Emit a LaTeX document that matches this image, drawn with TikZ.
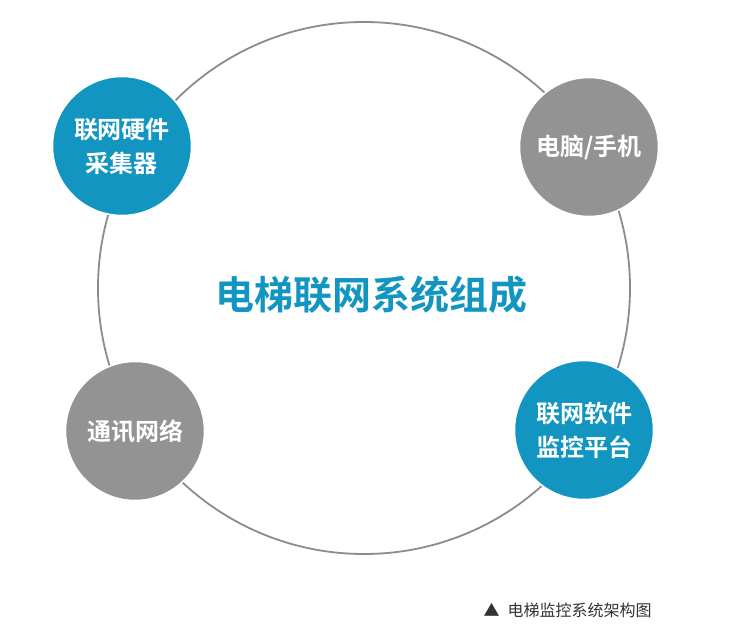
\documentclass[tikz,border=0pt]{standalone}
\usepackage{fontspec}
\newfontfamily\cjk{Noto Sans CJK SC}
\newfontfamily\cjkb{Noto Sans CJK SC Bold}
\definecolor{dotblue}{HTML}{1296C1}
\definecolor{dotgray}{HTML}{939393}
\definecolor{ringgray}{HTML}{8C8C8C}
\definecolor{captext}{HTML}{333333}
\tikzset{
  dot/.style={circle,draw=white,line width=1.5pt,minimum size=139pt,inner sep=0pt,
    text=white,align=center,font=\cjkb\fontsize{24}{34}\selectfont},
  bluedot/.style={dot,fill=dotblue},
  graydot/.style={dot,fill=dotgray}
}
\begin{document}
\begin{tikzpicture}[x=1pt,y=-1pt]
\useasboundingbox[fill=white] (0,0) rectangle (729,632);
% outer ring
\draw[color=ringgray,line width=1.8pt] (364,288) circle (266);
% title
\node[font=\cjkb\fontsize{39}{42}\selectfont,text=dotblue] (title) at (371,295) {电梯联网系统组成};
% the four parts
\node[bluedot] (hard) at (122,146) {联网硬件\\采集器};
\node[graydot] (pc) at (589,147) {电脑/手机};
\node[graydot] (net) at (135,431) {通讯网络};
\node[bluedot] (soft) at (584,430) {联网软件\\监控平台};
% caption
\node[font=\cjk\fontsize{16}{18}\selectfont,text=captext,anchor=west] (cap) at (480,610) {▲\hspace{8pt}电梯监控系统架构图};
\end{tikzpicture}
\end{document}
